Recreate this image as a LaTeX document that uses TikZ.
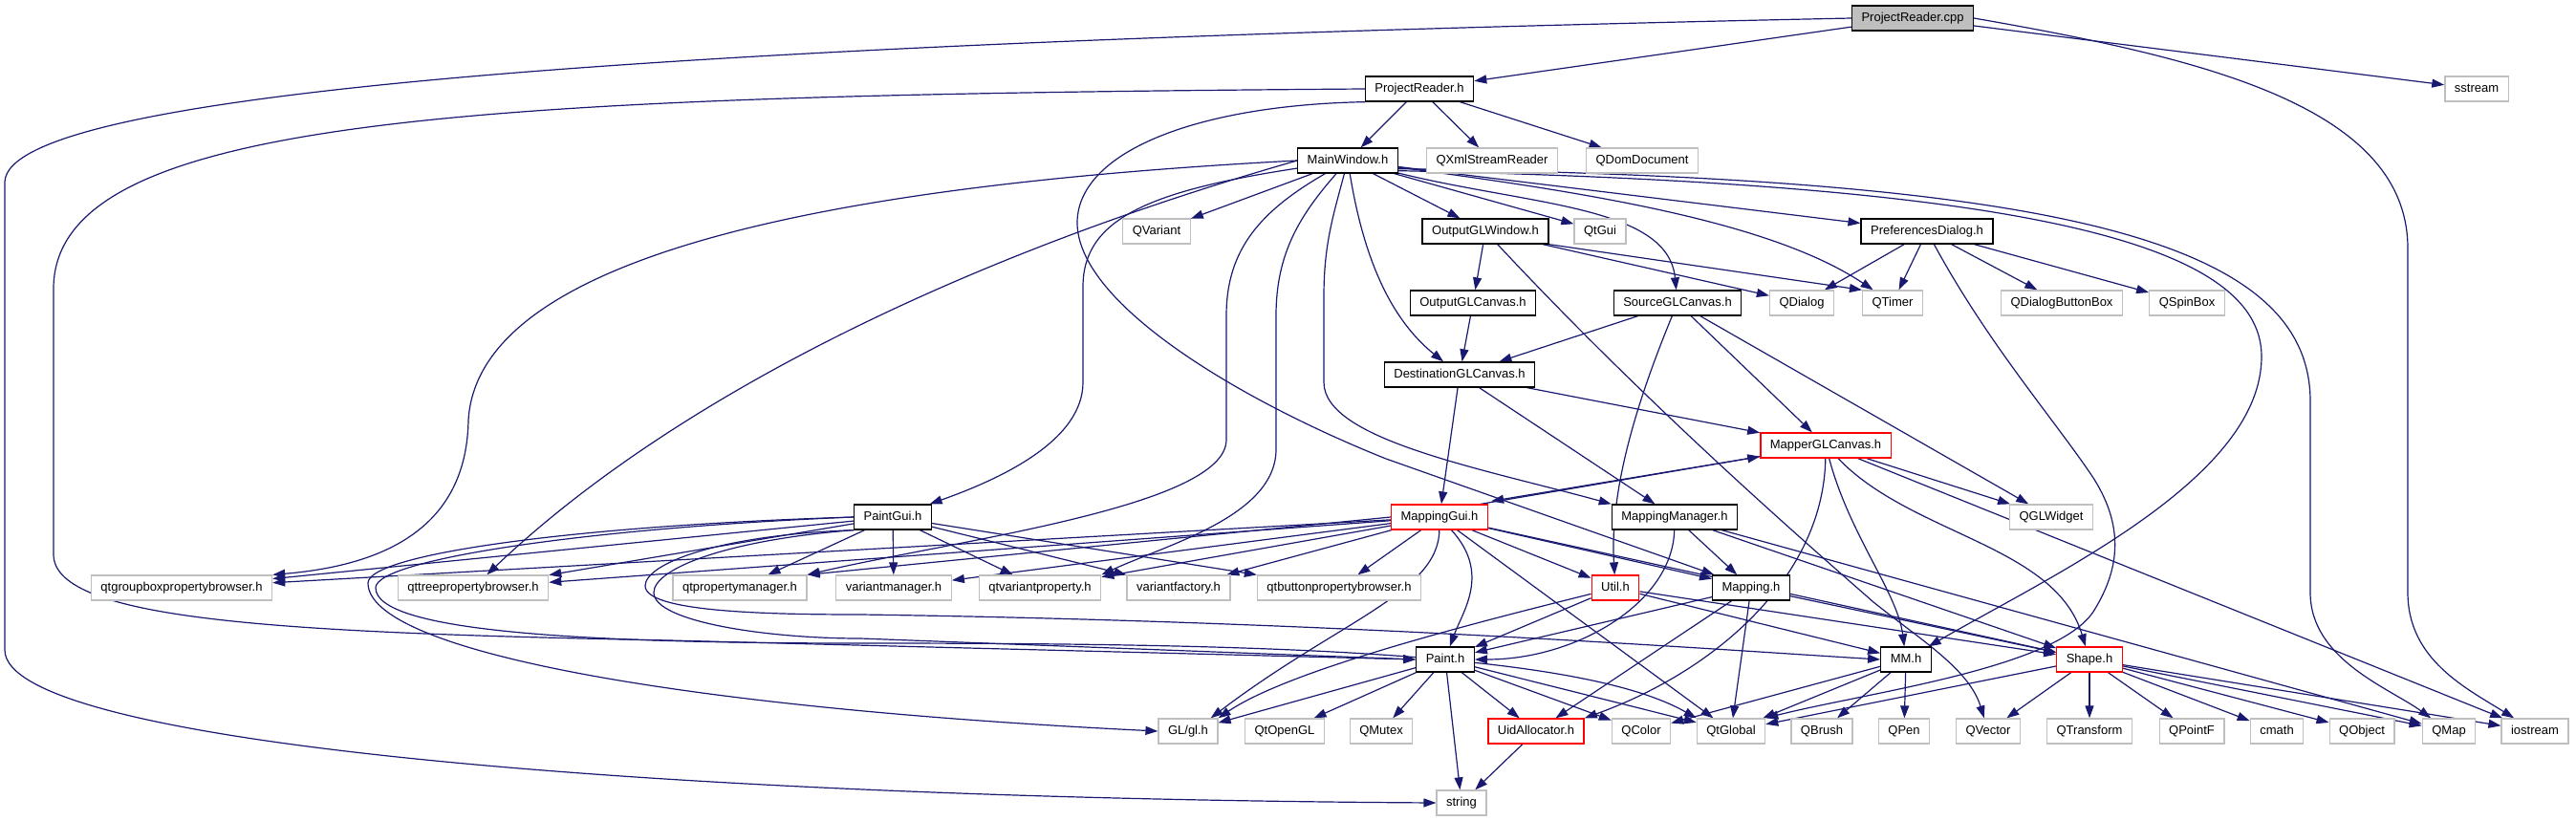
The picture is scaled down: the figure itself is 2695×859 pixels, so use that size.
\documentclass[tikz,border=0pt]{standalone}
\usepackage{fontspec}
\setmainfont{Liberation Sans}
\usetikzlibrary{arrows.meta}
\definecolor{edgeblue}{HTML}{191970}
\definecolor{greyline}{HTML}{BFBFBF}
\pgfdeclarelayer{edges}
\pgfsetlayers{edges,main}
\begin{document}
\begin{tikzpicture}[x=1pt, y=-1pt, font=\fontsize{13}{15}\selectfont,
    docnode/.style={draw=black, line width=1.3pt, fill=white, minimum height=26pt, inner xsep=10pt, inner ysep=2pt, text height=9.5pt, text depth=3pt},
    extnode/.style={docnode, draw=greyline},
    rednode/.style={docnode, draw=red},
    rootnode/.style={docnode, fill=greyline},
    incl/.style={draw=edgeblue, line width=1.2pt, -{Triangle[length=13pt, width=9pt]}}]
  \useasboundingbox (0,0) rectangle (2695,859);
  \node[rootnode] (cpp) at (2001,19) {ProjectReader.cpp};
  \node[extnode] (sstream) at (2591,93) {sstream};
  \node[docnode] (prh) at (1485,93) {ProjectReader.h};
  \node[docnode] (mw) at (1410,168) {MainWindow.h};
  \node[extnode] (xmlsr) at (1561,168) {QXmlStreamReader};
  \node[extnode] (domdoc) at (1718,168) {QDomDocument};
  \node[extnode] (qvariant) at (1210,242) {QVariant};
  \node[docnode] (oglwin) at (1554,242) {OutputGLWindow.h};
  \node[extnode] (qtgui) at (1674,242) {QtGui};
  \node[docnode] (prefdlg) at (2016,242) {PreferencesDialog.h};
  \node[docnode] (oglcanvas) at (1541,317) {OutputGLCanvas.h};
  \node[docnode] (srccanvas) at (1755,317) {SourceGLCanvas.h};
  \node[extnode] (qdialog) at (1885,317) {QDialog};
  \node[extnode] (qtimer) at (1980,317) {QTimer};
  \node[extnode] (qdbb) at (2157,317) {QDialogButtonBox};
  \node[extnode] (qspinbox) at (2288,317) {QSpinBox};
  \node[docnode] (destcanvas) at (1527,392) {DestinationGLCanvas.h};
  \node[rednode] (mappercanvas) at (1910,466) {MapperGLCanvas.h};
  \node[docnode] (paintgui) at (934,541) {PaintGui.h};
  \node[rednode] (mappinggui) at (1506,541) {MappingGui.h};
  \node[docnode] (mappingmgr) at (1752,541) {MappingManager.h};
  \node[extnode] (qglwidget) at (2146,541) {QGLWidget};
  \foreach \n/\x/\t in {qtgroupbox/190/qtgroupboxpropertybrowser.h, qttree/495/qttreepropertybrowser.h,
      qtpropmgr/774/qtpropertymanager.h, varmgr/935/variantmanager.h, qtvarprop/1088/qtvariantproperty.h,
      varfactory/1233/variantfactory.h, qtbutton/1401/qtbuttonpropertybrowser.h}
    \node[extnode] (\n) at (\x,615) {\t};
  \node[rednode] (util) at (1690,615) {Util.h};
  \node[docnode] (mapping) at (1832,615) {Mapping.h};
  \node[docnode] (paint) at (1512,690) {Paint.h};
  \node[docnode] (mm) at (1994,690) {MM.h};
  \node[rednode] (shape) at (2186,690) {Shape.h};
  \node[extnode] (glh) at (1243,765) {GL/gl.h};
  \node[rednode] (uidalloc) at (1607,765) {UidAllocator.h};
  \foreach \n/\x/\t in {qtopengl/1344/QtOpenGL, qmutex/1445/QMutex, qcolor/1717/QColor, qtglobal/1811/QtGlobal,
      qbrush/1906/QBrush, qpen/1992/QPen, qvector/2080/QVector, qtransform/2186/QTransform, qpointf/2293/QPointF,
      cmath/2382/cmath, qobject/2471/QObject, qmap/2562/QMap, iostream/2652/iostream}
    \node[extnode] (\n) at (\x,765) {\t};
  \node[extnode] (string) at (1529,840) {string};

  \begin{pgfonlayer}{edges}
  \foreach \s/\t in {cpp/prh, cpp/sstream, prh/mw, prh/xmlsr, prh/domdoc,
      mw/qvariant, mw/oglwin, mw/qtgui, mw/prefdlg,
      oglwin/oglcanvas, oglwin/qdialog, oglwin.south east/qtimer.north west,
      prefdlg/qdialog, prefdlg/qtimer, prefdlg/qdbb, prefdlg/qspinbox,
      oglcanvas/destcanvas, srccanvas/destcanvas, srccanvas/mappercanvas, srccanvas/qglwidget,
      destcanvas/mappercanvas, destcanvas/mappinggui, destcanvas/mappingmgr,
      mappercanvas/qglwidget, mappercanvas/iostream,
      paintgui/qtgroupbox, paintgui/qttree, paintgui/qtpropmgr, paintgui/varmgr, paintgui/qtvarprop,
      paintgui/varfactory, paintgui/qtbutton,
      mappinggui/qtgroupbox, mappinggui/qttree, mappinggui.west/qtpropmgr.north east, mappinggui/varmgr,
      mappinggui/qtvarprop, mappinggui/varfactory, mappinggui/qtbutton,
      mappinggui/util, mappinggui/mapping, mappinggui/shape, mappinggui/qtglobal,
      mappingmgr/mapping, mappingmgr/shape, mappingmgr/qmap,
      util/paint, util/mm, util/shape,
      mapping/paint, mapping/uidalloc, mapping/qtglobal, mapping/shape,
      paint/glh, paint/qtopengl, paint/qmutex, paint/uidalloc, paint/qcolor, paint/qtglobal, paint/string,
      mm/qtglobal, mm/qbrush, mm/qpen, mm/qcolor,
      shape/qtglobal, shape/qvector, shape/qtransform, shape/qpointf, shape/cmath, shape/qobject,
      shape/qmap, shape/iostream, uidalloc/string}
    \draw[incl] (\s) -- (\t);

  \draw[incl] (cpp.west) .. controls (700,45) and (10,95) .. (5,190) -- (5,680)
    .. controls (5,780) and (700,835) .. (string.west);
  \draw[incl] (cpp.east) .. controls (2300,60) and (2519,110) .. (2519,260) -- (2519,620)
    .. controls (2519,690) and (2580,720) .. (iostream);
  \draw[incl] (prh.west) .. controls (500,100) and (60,120) .. (56,300) -- (56,580)
    .. controls (56,650) and (300,662) .. (700,670) -- (paint.west);
  \draw[incl] (prh.south west) .. controls (1250,110) and (1125,160) .. (1127,235)
    .. controls (1130,320) and (1300,420) .. (1450,480) -- (mapping);

  \draw[incl] (mw.west) .. controls (900,192) and (500,260) .. (490,440)
    .. controls (488,540) and (420,590) .. (qtgroupbox.north east);
  \draw[incl] (mw.west) .. controls (1000,270) and (700,420) .. (qttree);
  \draw[incl] (mw) .. controls (1200,200) and (1133,230) .. (1133,300) -- (1133,400)
    .. controls (1133,460) and (1050,500) .. (paintgui);
  \draw[incl] (mw) .. controls (1320,220) and (1283,260) .. (1283,330) -- (1283,460)
    .. controls (1283,530) and (1000,565) .. (qtpropmgr.north east);
  \draw[incl] (mw) .. controls (1360,225) and (1335,265) .. (1335,330) -- (1335,470)
    .. controls (1335,540) and (1220,570) .. (qtvarprop.north east);
  \draw[incl] (mw) .. controls (1395,225) and (1385,255) .. (1385,310) -- (1385,400)
    .. controls (1385,460) and (1550,490) .. (mappingmgr.north west);
  \draw[incl] (mw) .. controls (1425,260) and (1450,330) .. (destcanvas);
  \draw[incl] (mw) .. controls (1600,215) and (1745,215) .. (srccanvas);
  \draw[incl] (mw) .. controls (1650,200) and (1850,230) .. (qtimer);
  \draw[incl] ([yshift=3pt]mw.south east) .. controls (2100,192) and (2366,250) .. (2366,373)
    .. controls (2366,500) and (2150,600) .. (mm);
  \draw[incl] ([yshift=5pt]mw.south east) .. controls (2150,186) and (2417,250) .. (2417,420) -- (2417,620)
    .. controls (2417,690) and (2500,720) .. (qmap);

  \draw[incl] (oglwin) .. controls (1720,420) and (1880,560) .. (1960,630)
    .. controls (2010,670) and (2060,700) .. (qvector);
  \draw[incl] (prefdlg) .. controls (2080,360) and (2150,440) .. (2190,500)
    .. controls (2225,555) and (2215,600) .. (2190,640)
    .. controls (2150,700) and (1950,725) .. (qtglobal.north east);
  \draw[incl] (srccanvas) .. controls (1700,450) and (1685,530) .. (util);

  \draw[incl] ([xshift=-8pt]mappinggui.north east) -- ([yshift=2pt]mappercanvas.south west);
  \draw[incl] ([xshift=6pt,yshift=3pt]mappercanvas.south west) -- ([xshift=3pt,yshift=3pt]mappinggui.north east);
  \draw[incl] (mappercanvas) .. controls (1935,560) and (1985,620) .. (mm);
  \draw[incl] (mappercanvas) .. controls (2000,560) and (2150,570) .. (shape);
  \draw[incl] (mappercanvas) .. controls (1908,600) and (1800,700) .. (uidalloc.north east);

  \draw[incl] (mappinggui) .. controls (1560,600) and (1530,640) .. (paint);
  \draw[incl] (mappinggui) .. controls (1505,620) and (1400,650) .. ([xshift=-8pt]glh.north east);
  \draw[incl] (util) .. controls (1550,650) and (1350,700) .. (glh.north east);
  \draw[incl] (mappingmgr) .. controls (1750,630) and (1650,690) .. (paint.east);

  \draw[incl] (paintgui.west) .. controls (600,550) and (385,580) .. (385,610)
    .. controls (385,680) and (700,740) .. (glh.west);
  \draw[incl] (paintgui.west) .. controls (620,552) and (393,585) .. (393,615)
    .. controls (393,660) and (600,673) .. (900,673) .. controls (1300,673) and (1650,680) .. (qtglobal.north west);
  \draw[incl] (paintgui.south west) .. controls (750,560) and (675,590) .. (675,613)
    .. controls (675,640) and (800,643) .. (900,643) .. controls (1400,650) and (1800,680) .. (mm.west);
  \draw[incl] (paintgui.south west) .. controls (760,565) and (684,595) .. (684,620)
    .. controls (684,650) and (800,668) .. (900,668) -- (paint.west);
  \end{pgfonlayer}
\end{tikzpicture}
\end{document}
